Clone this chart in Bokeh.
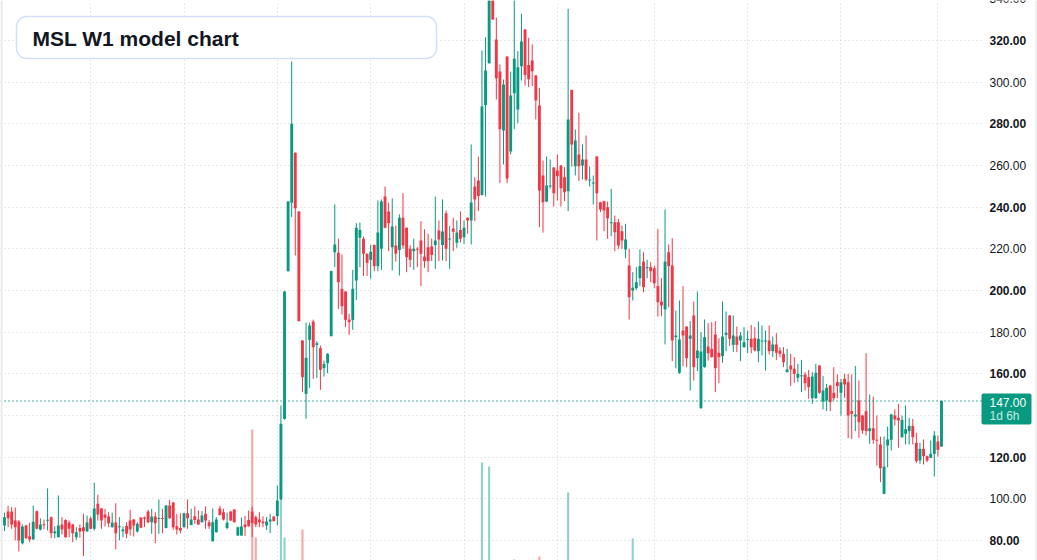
from bokeh.plotting import figure
from bokeh.models import Grid, FixedTicker, Range1d
from bokeh.core.properties import value
from bokeh.embed import file_html
from bokeh.resources import INLINE

# ---------------- data ----------------
title_text = "MSL W1 model chart"

opens = [
    87.2, 93.9, 93.9, 89.6, 89.1, 78.7, 87.2, 82.1, 80.5, 94.1,
    85.3, 87.7, 89.6, 91.2, 83.5, 81.6, 87.7, 89.9, 88.6, 87.7,
    81.6, 86.0, 86.4, 84.5, 90.6, 85.6, 97.6, 95.4, 92.5, 91.5,
    86.4, 88.6, 86.4, 84.5, 87.0, 89.6, 90.1, 84.3, 91.0, 91.0,
    93.9, 88.8, 91.5, 90.4, 90.7, 86.0, 96.8, 98.2, 86.9, 86.0,
    86.4, 93.1, 87.5, 91.7, 90.1, 88.8, 92.8, 88.8, 79.7, 84.0,
    95.4, 93.6, 86.0, 93.9, 94.9, 82.4, 82.4, 87.7, 89.9, 93.9,
    91.2, 90.1, 89.1, 87.2, 89.1, 91.5, 91.7, 99.7, 138.4, 209.3,
    242.1, 266.1, 237.9, 176.0, 150.4, 176.3, 185.1, 173.9, 172.3, 162.7,
    165.1, 178.1, 218.4, 218.1, 200.8, 199.5, 186.0, 185.9, 204.8, 225.3,
    224.9, 217.6, 214.7, 221.9, 211.7, 220.0, 245.1, 237.9, 220.8, 221.6,
    219.5, 234.9, 230.1, 220.0, 218.9, 220.0, 224.0, 216.3, 220.8, 221.1,
    221.9, 228.8, 221.9, 237.1, 224.5, 229.8, 222.9, 229.1, 225.6, 234.9,
    233.6, 249.9, 252.8, 245.8, 289.0, 309.1, 340.0, 320.5, 305.1, 276.8,
    312.3, 266.7, 294.7, 286.9, 307.7, 325.3, 308.3, 310.4, 303.2, 288.8,
    255.2, 242.7, 249.9, 259.0, 257.6, 260.0, 254.4, 247.7, 296.3, 259.7,
    265.3, 260.0, 262.9, 252.8, 251.5, 264.3, 242.4, 242.9, 240.0, 232.3,
    232.8, 232.8, 228.5, 219.7, 212.0, 200.0, 201.1, 205.9, 213.9, 210.7,
    211.2, 210.7, 202.1, 194.7, 190.9, 218.4, 212.0, 177.6, 160.5, 180.8,
    182.7, 176.8, 188.0, 167.5, 143.5, 163.2, 173.1, 172.0, 178.9, 170.1,
    168.5, 178.7, 188.0, 173.9, 177.9, 176.0, 172.8, 176.3, 176.8, 177.1,
    170.9, 175.5, 175.5, 176.0, 170.9, 174.1, 171.2, 169.6, 160.8, 164.0,
    162.4, 158.1, 158.9, 159.7, 158.4, 148.3, 148.3, 164.0, 146.7, 147.2,
    154.4, 150.9, 156.0, 150.9, 157.6, 156.0, 142.1, 139.5, 147.2, 140.0,
    142.1, 132.5, 133.9, 128.3, 126.1, 102.4, 125.6, 128.3, 140.0, 138.9,
    129.6, 131.2, 132.5, 135.0, 126.9, 118.4, 124.0, 120.5, 119.7, 121.6,
    127.5, 125.1,
]

highs = [
    93.4, 96.6, 96.0, 95.8, 89.9, 87.7, 87.5, 88.5, 96.8, 94.4,
    90.6, 90.0, 105.0, 91.5, 86.9, 101.6, 91.2, 90.2, 89.6, 88.0,
    86.4, 87.7, 92.8, 92.0, 91.5, 107.8, 102.0, 95.6, 95.2, 93.6,
    93.4, 97.9, 91.2, 86.7, 88.8, 94.7, 90.3, 88.8, 91.2, 91.5,
    94.7, 95.2, 93.6, 99.7, 95.2, 97.0, 99.5, 98.4, 92.8, 93.1,
    93.3, 99.7, 95.2, 96.4, 94.4, 94.1, 96.4, 89.9, 95.4, 91.2,
    96.6, 95.2, 93.4, 94.1, 95.1, 86.6, 91.0, 91.8, 94.4, 96.3,
    92.0, 93.6, 91.6, 91.2, 92.8, 91.7, 106.4, 144.8, 199.8, 243.0,
    309.9, 266.3, 238.1, 176.2, 184.6, 184.6, 186.0, 175.7, 173.6, 166.4,
    169.9, 209.5, 241.3, 224.9, 217.3, 199.7, 188.8, 209.9, 232.3, 232.6,
    225.9, 217.8, 221.9, 222.1, 243.2, 243.7, 249.9, 242.2, 244.2, 231.2,
    236.6, 246.7, 230.3, 221.6, 224.9, 220.8, 233.3, 229.4, 227.2, 224.9,
    245.1, 233.6, 243.7, 238.4, 231.0, 234.9, 233.6, 237.9, 233.6, 235.1,
    270.1, 254.4, 264.3, 315.2, 321.6, 346.0, 342.0, 331.0, 308.5, 301.3,
    312.5, 305.1, 341.0, 314.9, 332.8, 325.5, 321.3, 318.1, 303.4, 297.3,
    262.4, 264.3, 262.9, 259.2, 265.3, 260.2, 259.2, 335.2, 296.5, 277.3,
    285.3, 270.1, 274.4, 259.5, 255.2, 264.5, 242.6, 243.1, 242.7, 248.8,
    236.0, 234.4, 231.2, 232.0, 220.0, 208.8, 211.2, 219.7, 218.4, 214.7,
    213.6, 212.0, 229.6, 205.9, 238.9, 222.1, 225.1, 190.4, 195.2, 202.1,
    182.9, 185.3, 194.7, 199.5, 180.0, 186.1, 184.3, 184.8, 185.3, 177.1,
    194.7, 189.9, 188.2, 188.0, 182.7, 180.0, 182.4, 180.8, 183.5, 182.4,
    185.1, 183.2, 180.8, 183.2, 177.9, 179.5, 172.8, 172.8, 172.0, 169.6,
    168.0, 164.8, 166.7, 160.8, 161.9, 160.8, 164.8, 164.2, 158.9, 155.2,
    154.6, 163.2, 159.7, 157.6, 160.0, 160.0, 159.7, 163.7, 156.8, 140.2,
    169.9, 150.1, 149.1, 140.0, 129.9, 129.9, 134.7, 140.8, 142.9, 145.6,
    140.0, 144.8, 138.9, 138.4, 131.7, 126.9, 128.5, 120.8, 128.0, 132.5,
    130.4, 147.2,
]

lows = [
    84.5, 86.4, 85.6, 80.0, 74.7, 78.1, 80.8, 79.2, 80.5, 85.3,
    84.8, 85.4, 84.8, 81.1, 81.1, 81.6, 82.9, 81.4, 81.6, 79.2,
    80.3, 81.3, 72.5, 84.0, 85.4, 84.8, 89.6, 85.6, 86.7, 86.4,
    86.2, 75.8, 80.0, 81.6, 81.1, 82.4, 81.9, 83.8, 85.9, 86.4,
    88.3, 83.2, 78.7, 83.2, 83.5, 85.8, 90.5, 85.1, 82.9, 83.5,
    86.2, 85.6, 87.3, 88.0, 87.5, 88.6, 85.6, 85.6, 79.5, 83.8,
    92.0, 89.6, 85.4, 89.4, 88.6, 82.2, 82.2, 82.1, 86.7, 81.6,
    86.4, 86.4, 86.4, 85.1, 83.5, 89.1, 87.2, 99.5, 138.0, 209.0,
    235.2, 216.8, 185.1, 151.2, 138.4, 153.3, 157.6, 158.1, 152.3, 158.7,
    160.3, 177.9, 211.2, 191.2, 188.5, 182.4, 178.7, 181.1, 195.5, 211.2,
    207.0, 207.0, 205.6, 209.3, 209.3, 209.9, 229.9, 218.9, 209.6, 213.9,
    207.2, 220.0, 208.8, 211.2, 209.9, 211.2, 202.1, 210.9, 208.8, 214.1,
    210.4, 214.1, 214.4, 214.1, 210.4, 218.9, 220.5, 223.0, 222.4, 227.2,
    222.1, 233.3, 238.1, 245.6, 245.1, 308.9, 329.9, 291.7, 251.5, 260.5,
    251.5, 265.3, 277.4, 280.3, 300.8, 298.4, 297.6, 298.1, 282.1, 230.4,
    227.8, 242.4, 248.8, 240.3, 243.2, 240.3, 242.9, 238.1, 259.5, 255.2,
    252.5, 253.3, 252.5, 249.9, 241.3, 224.0, 237.6, 228.5, 224.8, 226.1,
    218.9, 220.0, 220.0, 215.5, 186.1, 195.2, 200.3, 202.1, 199.2, 205.9,
    204.0, 201.3, 187.5, 187.7, 174.1, 192.0, 166.1, 162.7, 160.0, 163.7,
    163.2, 152.0, 156.8, 161.3, 143.3, 163.0, 166.4, 167.8, 151.2, 155.5,
    165.3, 170.9, 173.3, 170.4, 170.4, 166.1, 172.5, 169.9, 169.9, 170.7,
    165.6, 168.8, 161.6, 169.3, 168.0, 166.7, 168.0, 163.2, 160.6, 154.1,
    155.7, 156.0, 151.2, 152.0, 148.0, 145.6, 148.0, 150.4, 142.9, 142.1,
    142.1, 147.2, 148.3, 140.0, 148.5, 129.1, 128.8, 132.5, 129.3, 131.2,
    130.4, 126.4, 126.4, 116.0, 108.0, 102.2, 115.2, 123.2, 135.2, 124.5,
    129.3, 126.1, 126.1, 126.1, 117.1, 116.8, 116.5, 117.6, 119.5, 110.7,
    120.3, 124.9,
]

closes = [
    91.2, 90.7, 87.7, 86.4, 80.0, 86.7, 81.1, 80.5, 89.0, 85.6,
    87.7, 87.4, 89.9, 83.5, 84.3, 87.2, 85.3, 81.6, 85.6, 83.5,
    84.0, 84.3, 84.5, 88.6, 85.6, 95.4, 92.5, 89.6, 90.9, 88.3,
    88.6, 83.5, 86.9, 85.3, 83.2, 85.3, 87.2, 88.0, 86.1, 90.4,
    88.8, 91.5, 88.3, 90.7, 90.4, 96.8, 90.7, 86.4, 85.3, 84.8,
    93.1, 90.7, 90.1, 89.9, 87.7, 92.0, 89.6, 86.9, 88.8, 90.1,
    92.3, 90.1, 88.5, 89.6, 88.8, 86.4, 86.7, 86.4, 86.9, 88.3,
    87.7, 88.8, 88.3, 89.1, 90.1, 89.3, 99.2, 136.0, 199.5, 242.7,
    280.0, 239.5, 185.3, 158.4, 167.7, 183.2, 172.8, 174.7, 161.9, 164.8,
    169.6, 209.3, 222.1, 204.0, 192.5, 185.9, 184.8, 200.8, 230.1, 229.1,
    217.6, 213.3, 218.6, 211.7, 227.8, 242.7, 230.1, 232.3, 230.7, 217.6,
    234.9, 221.6, 216.0, 214.7, 220.0, 219.7, 217.6, 214.1, 214.1, 217.1,
    224.0, 224.5, 228.3, 220.0, 224.9, 228.2, 227.8, 224.9, 230.1, 233.6,
    242.2, 243.7, 245.4, 288.3, 305.6, 341.0, 330.1, 301.9, 277.4, 298.9,
    253.8, 293.6, 311.2, 307.2, 319.5, 303.4, 301.4, 305.3, 291.2, 248.0,
    242.4, 250.4, 250.4, 246.7, 254.9, 249.1, 247.2, 282.1, 270.1, 272.0,
    259.7, 262.9, 253.3, 253.3, 251.8, 246.7, 238.9, 238.4, 234.7, 232.8,
    228.0, 221.6, 224.0, 224.5, 196.8, 201.3, 204.0, 211.7, 201.6, 211.2,
    209.3, 203.5, 194.4, 192.8, 213.9, 211.7, 176.0, 178.4, 176.5, 178.4,
    167.5, 178.4, 163.2, 171.2, 170.7, 177.6, 169.9, 168.0, 162.7, 168.0,
    177.9, 179.7, 176.8, 178.4, 173.9, 178.4, 175.2, 176.7, 172.8, 171.2,
    176.8, 176.0, 176.0, 170.9, 174.1, 170.1, 169.6, 165.6, 162.1, 162.1,
    160.0, 160.0, 159.2, 155.5, 153.6, 158.7, 160.5, 150.9, 152.0, 153.3,
    146.4, 148.3, 154.1, 156.0, 154.9, 140.0, 140.8, 140.5, 136.8, 132.8,
    132.5, 133.9, 128.3, 128.0, 114.7, 115.5, 128.5, 140.5, 138.1, 137.6,
    137.9, 133.4, 135.0, 129.6, 118.1, 124.0, 120.5, 118.4, 121.6, 130.4,
    123.5, 147.0,
]

# volume bars that rise into the visible area (bar index, volume)
vol_idx = [69, 70, 77, 78, 83, 133, 135, 142, 149, 157, 175]
vol_val = [2110, 1030, 1600, 1030, 1110, 1780, 1740, 810, 840, 1480, 1020]

price_ticks = [80, 100, 120, 140, 160, 180, 200, 220, 240, 260, 280, 300, 320, 340]
time_ticks = [24, 50, 76, 102, 128, 154, 181, 207, 233, 260]
last_price = 147.00
countdown = "1d 6h"

# ---------------- layout helpers ----------------
W, H = 1037, 560
BAR_PX = 3.59          # pixels per weekly bar
X0_PX = 4.0            # pixel of bar 0
Y_TOP, Y_BOT = 339.2, 70.4
PPU = H / (Y_TOP - Y_BOT)

def xd(px):
    return (px - X0_PX) / BAR_PX

def yd(py):
    return Y_TOP - py / PPU

UP = "#089981"
DOWN = "#f23645"
UP_VOL = "#92d2cc"
DOWN_VOL = "#f7a9a7"
GRID = "#cfcfcf"
TXT = "#131722"
FONT = value("Liberation Sans")

p = figure(width=W, height=H, x_range=Range1d(xd(0), xd(W)),
           y_range=Range1d(Y_BOT, Y_TOP), output_backend="svg",
           toolbar_location=None, x_axis_location=None, y_axis_location=None,
           min_border=0, background_fill_color="white", border_fill_color="white")
p.outline_line_color = None
p.grid.visible = False

vg = Grid(dimension=0, ticker=FixedTicker(ticks=time_ticks),
          grid_line_color=GRID, grid_line_dash="1 3", grid_line_width=1)
hg = Grid(dimension=1, ticker=FixedTicker(ticks=price_ticks),
          grid_line_color=GRID, grid_line_dash="1 3", grid_line_width=1,
          cross_bounds=(xd(0), xd(982)))
p.add_layout(vg, "center")
p.add_layout(hg, "center")

# volume (overlay scale, baseline below the visible frame)
p.extra_y_ranges = {"vol": Range1d(800, 6400)}
vol_colors = [UP_VOL if closes[i] >= opens[i] else DOWN_VOL for i in vol_idx]
p.vbar(x=vol_idx, top=vol_val, bottom=0, width=0.6, y_range_name="vol",
       fill_color=vol_colors, line_color=None)

# candles
idx = list(range(len(opens)))
colors = [UP if c >= o else DOWN for o, c in zip(opens, closes)]
body_top, body_bot = [], []
for o, c in zip(opens, closes):
    t, b = max(o, c), min(o, c)
    if t - b < 0.5:
        m = (t + b) / 2
        t, b = m + 0.25, m - 0.25
    body_top.append(t)
    body_bot.append(b)

p.segment(x0=idx, x1=idx, y0=lows, y1=highs, line_color=colors, line_width=1)
p.vbar(x=idx, top=body_top, bottom=body_bot, width=0.8,
       fill_color=colors, line_color=None)

# last price line (dotted)
p.segment(x0=[xd(0)], x1=[xd(981)], y0=[last_price], y1=[last_price],
          line_color=UP, line_width=1.5, line_dash="1 3")

# price scale labels
bold_ticks = [t for t in price_ticks if t % 40 == 0]
norm_ticks = [t for t in price_ticks if t % 40 != 0]
p.text(x=[xd(989)] * len(bold_ticks), y=bold_ticks,
       text=[f"{t:.2f}" for t in bold_ticks], text_font=FONT,
       text_font_size="12px", text_font_style="bold", text_color=TXT,
       text_align="left", text_baseline="middle")
p.text(x=[xd(989)] * len(norm_ticks), y=norm_ticks,
       text=[f"{t:.2f}" for t in norm_ticks], text_font=FONT,
       text_font_size="12px", text_font_style="normal", text_color=TXT,
       text_align="left", text_baseline="middle")

# last price badge
p.quad(left=[xd(981)], right=[xd(1031)], top=[yd(393)], bottom=[yd(424)],
       fill_color=UP, line_color=None, border_radius=2)
p.text(x=[xd(989)], y=[yd(401.5)], text=[f"{last_price:.2f}"], text_font=FONT,
       text_font_size="12px", text_color="white", text_align="left",
       text_baseline="middle")
p.text(x=[xd(989)], y=[yd(415.5)], text=[countdown], text_font=FONT,
       text_font_size="12px", text_color="#c6e9e2", text_align="left",
       text_baseline="middle")

# title card
p.quad(left=[xd(16)], right=[xd(436)], top=[yd(16)], bottom=[yd(58)],
       fill_color="white", line_color="#d3e1f8", line_width=1.5, border_radius=10)
p.text(x=[xd(32)], y=[yd(37.5)], text=[title_text], text_font=FONT,
       text_font_size="21px", text_font_style="bold", text_color=TXT,
       text_align="left", text_baseline="middle")

# container edges
p.quad(left=[xd(0)], right=[xd(2)], top=[Y_TOP], bottom=[Y_BOT],
       fill_color="#e8e8e8", line_color=None)
p.quad(left=[xd(1035)], right=[xd(1036)], top=[Y_TOP], bottom=[Y_BOT],
       fill_color="#e3e3e3", line_color=None)

open("out.html", "w").write(file_html(p, INLINE))
